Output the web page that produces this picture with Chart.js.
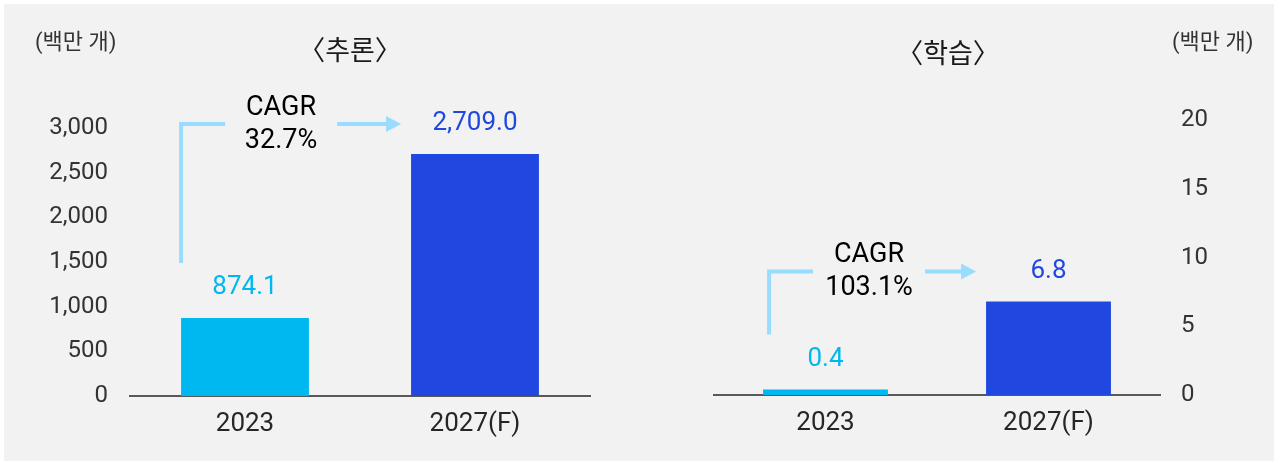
<!DOCTYPE html>
<html lang="ko">
<head>
<meta charset="utf-8">
<script src="https://cdn.jsdelivr.net/npm/chart.js@4"></script>
<style>
  html, body { margin: 0; padding: 0; background: #ffffff; }
  #wrap { position: relative; width: 1281px; height: 463px; }
  #bg { position: absolute; left: 4px; top: 4px; width: 1270px; height: 457px; background: #f2f2f2; }
  #left { position: absolute; left: 0; top: 0; }
  #right { position: absolute; left: 640px; top: 0; }
</style>
</head>
<body>
<div id="wrap">
  <div id="bg"></div>
  <canvas id="left" width="640" height="463"></canvas>
  <canvas id="right" width="641" height="463"></canvas>
</div>
<script>
// data
const categories = ["2023", "2027(F)"];
const inferenceValues = [874.1, 2709.0];
const trainingValues = [0.4, 6.8];
const inferenceMax = 3000;
const inferenceStep = 500;
const trainingMax = 20;
const trainingStep = 5;
const cagrLabels = ["32.7%", "103.1%"];
const chartTitles = ["〈추론〉", "〈학습〉"];
const unitLabel = "(백만 개)";

const barColors = ["#00b8f0", "#2048e0"];
const arrowColor = "#99dcff";
const FONT = 'Roboto, "Noto Sans CJK KR", sans-serif';

function fmt(v) {
  return v.toLocaleString("en-US", { minimumFractionDigits: 1, maximumFractionDigits: 1 });
}

// draws titles, value labels and the CAGR bracket arrow
function overlayPlugin(title, titleX, titleY, unitX, unitY, cagr, bracketShift) {
  return {
    id: "overlay",
    afterDatasetsDraw(chart) {
      const ctx = chart.ctx;
      const bars = chart.getDatasetMeta(0).data;
      const values = chart.data.datasets[0].data;
      ctx.save();
      ctx.textBaseline = "middle";

      // title and unit
      ctx.fillStyle = "#1a1a1a";
      ctx.font = "27px " + FONT;
      ctx.textAlign = "center";
      ctx.fillText(title, titleX, titleY);
      ctx.fillStyle = "#333333";
      ctx.font = "22px " + FONT;
      ctx.textAlign = "left";
      ctx.fillText(unitLabel, unitX, unitY);

      // value labels
      ctx.font = "26px " + FONT;
      ctx.textAlign = "center";
      bars.forEach((bar, i) => {
        ctx.fillStyle = barColors[i];
        ctx.fillText(fmt(values[i]), bar.x, bar.y - 30);
      });

      // CAGR bracket
      const b0 = bars[0], b1 = bars[1];
      const lineY = b1.y - 30;
      const vx = b0.x - b0.width / 2 + bracketShift;
      const vBottom = b0.y - 55;
      const textX = vx + 100;
      const arrowStart = textX + 56;
      const arrowEnd = b1.x - b1.width / 2 - 10;

      ctx.strokeStyle = arrowColor;
      ctx.fillStyle = arrowColor;
      ctx.lineWidth = 4;
      ctx.beginPath();
      ctx.moveTo(vx, vBottom);
      ctx.lineTo(vx, lineY);
      ctx.lineTo(vx + 44, lineY);
      ctx.stroke();

      ctx.beginPath();
      ctx.moveTo(arrowStart, lineY);
      ctx.lineTo(arrowEnd - 14, lineY);
      ctx.stroke();
      ctx.beginPath();
      ctx.moveTo(arrowEnd, lineY);
      ctx.lineTo(arrowEnd - 15, lineY - 8);
      ctx.lineTo(arrowEnd - 15, lineY + 8);
      ctx.closePath();
      ctx.fill();

      ctx.fillStyle = "#000000";
      ctx.font = "27px " + FONT;
      ctx.fillText("CAGR", textX, lineY - 16);
      ctx.fillText(cagr, textX, lineY + 17);
      ctx.restore();
    }
  };
}

function makeChart(id, values, cfg) {
  const ctx = document.getElementById(id).getContext("2d");
  return new Chart(ctx, {
    type: "bar",
    data: {
      labels: categories,
      datasets: [{
        data: values,
        backgroundColor: barColors,
        categoryPercentage: 1,
        barPercentage: cfg.barPct
      }]
    },
    options: {
      responsive: false,
      animation: false,
      layout: { padding: cfg.padding },
      plugins: { legend: { display: false }, tooltip: { enabled: false } },
      scales: {
        x: {
          grid: { display: false, drawTicks: false },
          border: { display: true, color: "#595959", width: 2 },
          ticks: { color: "#262626", font: { family: FONT, size: 26 }, padding: 13 },
          afterFit(axis) { axis.height = cfg.xHeight; }
        },
        y: {
          position: cfg.yPos,
          min: 0,
          max: cfg.max,
          grid: { display: false, drawTicks: false },
          border: { display: false },
          ticks: {
            stepSize: cfg.step,
            color: "#333333",
            font: { family: FONT, size: 24 },
            padding: cfg.tickPad
          },
          afterFit(axis) { axis.width = cfg.yWidth; }
        }
      }
    },
    plugins: [cfg.overlay]
  });
}

makeChart("left", inferenceValues, {
  barPct: 0.556,
  padding: { left: 0, right: 50, top: 128, bottom: 0 },
  xHeight: 67,
  yPos: "left",
  yWidth: 130,
  tickPad: 22,
  max: inferenceMax,
  step: inferenceStep,
  overlay: overlayPlugin(chartTitles[0], 350, 53, 35, 43, cagrLabels[0], 0)
});

makeChart("right", trainingValues, {
  barPct: 0.56,
  padding: { left: 74, right: 0, top: 120, bottom: 0 },
  xHeight: 68,
  yPos: "right",
  yWidth: 121,
  tickPad: 21,
  max: trainingMax,
  step: trainingStep,
  overlay: overlayPlugin(chartTitles[1], 308, 56, 532, 43, cagrLabels[1], 6)
});
</script>
</body>
</html>
